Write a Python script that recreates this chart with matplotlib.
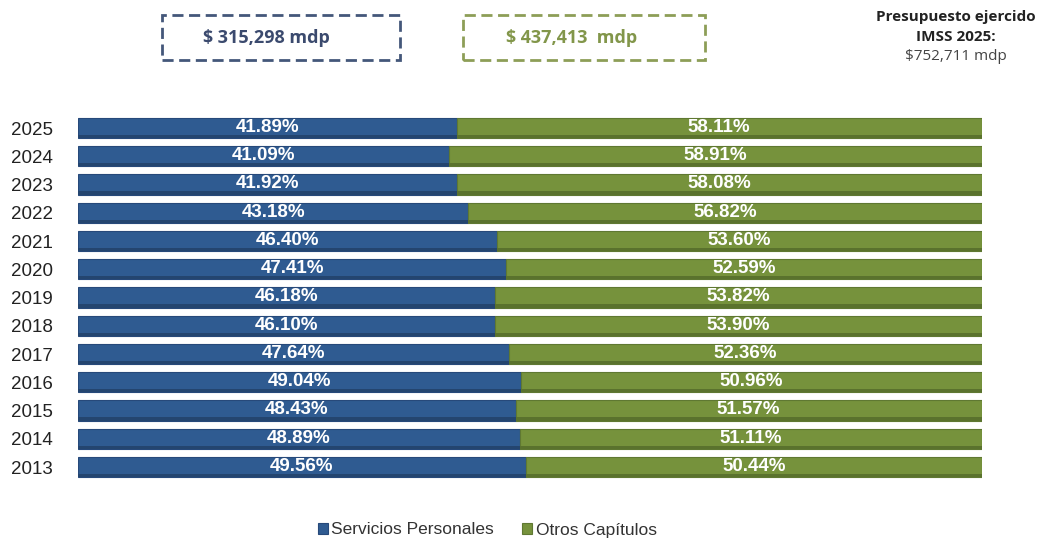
import numpy as np
import matplotlib.pyplot as plt
from matplotlib.patches import Rectangle

plt.rcParams['font.family'] = ['Liberation Sans', 'DejaVu Sans']

years = ["2013", "2014", "2015", "2016", "2017", "2018", "2019",
         "2020", "2021", "2022", "2023", "2024", "2025"]
servicios = [49.56, 48.89, 48.43, 49.04, 47.64, 46.10, 46.18,
             47.41, 46.40, 43.18, 41.92, 41.09, 41.89]
otros = [50.44, 51.11, 51.57, 50.96, 52.36, 53.90, 53.82,
         52.59, 53.60, 56.82, 58.08, 58.91, 58.11]
box_labels = ["$ 315,298 mdp", "$ 437,413  mdp"]
legend_names = ["Servicios Personales", "Otros Capítulos"]

blue = "#2f5b91"
green = "#76923c"

fig = plt.figure(figsize=(10.41, 5.4), dpi=100)
ax = fig.add_axes([0.075, 0.109, 0.868, 0.680])

y = np.arange(len(years))
h = 0.72
b1 = ax.barh(y, servicios, height=h, color=blue, edgecolor="#27497a", linewidth=0.8,
             label=legend_names[0])
b2 = ax.barh(y, otros, left=servicios, height=h, color=green, edgecolor="#5f7832",
             linewidth=0.8, label=legend_names[1])
# darker strip along the bottom of each bar (bevel look)
ax.barh(y - h / 2 + 0.06, servicios, height=0.12, color="#24456f", linewidth=0)
ax.barh(y - h / 2 + 0.06, otros, left=servicios, height=0.12, color="#5a722d", linewidth=0)

for i in range(len(years)):
    ax.text(servicios[i] / 2, y[i] + 0.02, f"{servicios[i]:.2f}%", ha="center", va="center",
            color="white", fontsize=13.5, fontweight="bold")
    ax.text(servicios[i] + otros[i] / 2, y[i] + 0.02, f"{otros[i]:.2f}%", ha="center",
            va="center", color="white", fontsize=13.5, fontweight="bold")

ax.set_xlim(0, 100)
ax.set_ylim(-0.5, len(years) - 0.5)
ax.set_yticks(y)
ax.set_yticklabels(years, fontsize=13.5, color="#222222")
ax.set_xticks([])
ax.tick_params(axis="y", length=0, pad=18)
for s in ax.spines.values():
    s.set_visible(False)

# dashed boxes at the top
fig.patches.append(Rectangle((162 / 1041, 1 - 60 / 540), 238 / 1041, 45 / 540,
                             transform=fig.transFigure, fill=False, edgecolor="#44577a",
                             linestyle=(0, (4, 2)), linewidth=2))
fig.patches.append(Rectangle((463 / 1041, 1 - 60 / 540), 242 / 1041, 45 / 540,
                             transform=fig.transFigure, fill=False, edgecolor="#8d9e57",
                             linestyle=(0, (4, 2)), linewidth=2))
fig.text(266 / 1041, 1 - 38 / 540, box_labels[0], ha="center", va="center", fontsize=13,
         fontweight="bold", color="#3b4a6e", family=["Open Sans", "DejaVu Sans"])
fig.text(572 / 1041, 1 - 38 / 540, box_labels[1], ha="center", va="center", fontsize=13,
         fontweight="bold", color="#82964a", family=["Open Sans", "DejaVu Sans"])

fig.text(956 / 1041, 1 - 17 / 540, "Presupuesto ejercido", ha="center", va="center",
         fontsize=11, fontweight="bold", color="#222222", family=["Open Sans", "DejaVu Sans"])
fig.text(956 / 1041, 1 - 37 / 540, "IMSS 2025:", ha="center", va="center",
         fontsize=11, fontweight="bold", color="#222222", family=["Open Sans", "DejaVu Sans"])
fig.text(956 / 1041, 1 - 57 / 540, "$752,711 mdp", ha="center", va="center",
         fontsize=11, color="#444444", family=["Open Sans", "DejaVu Sans"])

fig.legend(handles=[b1, b2], loc="center", bbox_to_anchor=(0.468, 1 - 530 / 540), ncol=2,
           frameon=False, fontsize=12.5, handlelength=0.6, handleheight=0.6,
           handletextpad=0.2, columnspacing=1.6, labelcolor="#333333")

fig.savefig("out.png", dpi=100)
